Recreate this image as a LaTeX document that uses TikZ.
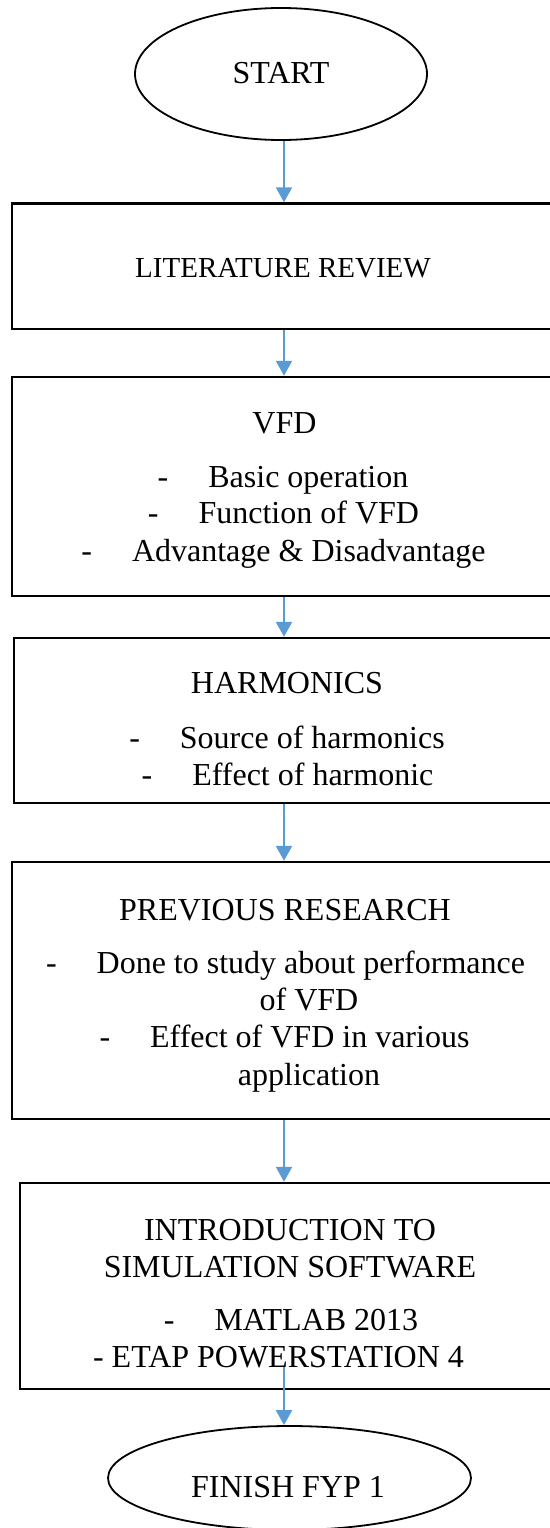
\documentclass[tikz,border=0pt]{standalone}
\usepackage{fontspec}
\setmainfont{Liberation Serif}
\usetikzlibrary{shapes.geometric,arrows.meta}

\definecolor{flowblue}{RGB}{91,155,213}

\tikzset{
  stepbox/.style={draw, line width=2.4pt, inner sep=0pt},
  terminal/.style={draw, ellipse, line width=1.8pt, inner sep=0pt},
  flow/.style={draw=flowblue, line width=2.2pt, -{Triangle[width=16pt,length=15pt]}},
  txt/.style={anchor=base, inner sep=0pt, font=\fontsize{32}{38}\selectfont}
}
\newcommand{\bullline}[1]{-\hspace{40pt}#1}

\begin{document}
\begin{tikzpicture}[x=1pt,y=-1pt]
  \useasboundingbox (0,0) rectangle (549,1528);

  % shapes
  \node[terminal, minimum width=292pt, minimum height=132pt] (start) at (281,74) {};
  \node[stepbox, minimum width=544pt, minimum height=125.5pt] (litrev) at (284,266.25) {};
  \node[stepbox, minimum width=544pt, minimum height=219pt] (vfd) at (284,486.5) {};
  \node[stepbox, minimum width=540pt, minimum height=165pt] (harm) at (284,720.5) {};
  \node[stepbox, minimum width=544pt, minimum height=257pt] (prev) at (284,990.5) {};
  \node[stepbox, minimum width=540pt, minimum height=206pt] (sim) at (290,1286) {};
  \node[terminal, minimum width=363pt, minimum height=104pt] (finish) at (289.5,1478) {};

  % texts
  \node[txt] (tstart) at (281,83) {START};
  \node[txt, font=\fontsize{29}{35}\selectfont] (tlit) at (283,277) {LITERATURE REVIEW};
  \node[txt] (tvfd) at (284.5,433) {VFD};
  \node[txt] (tbasic) at (283,487) {\bullline{Basic operation}};
  \node[txt] (tfunc) at (283.5,523) {\bullline{Function of VFD}};
  \node[txt] (tadv) at (283.5,561) {\bullline{Advantage \& Disadvantage}};
  \node[txt] (tharm) at (287,693) {HARMONICS};
  \node[txt] (tsrc) at (287,748) {\bullline{Source of harmonics}};
  \node[txt] (teff) at (287.5,785) {\bullline{Effect of harmonic}};
  \node[txt] (tprev) at (285,920) {PREVIOUS RESEARCH};
  \node[txt] (tdone) at (285.5,973) {\bullline{Done to study about performance}};
  \node[txt] (tdone2) at (309,1010) {of VFD};
  \node[txt] (tvar) at (284.5,1047) {\bullline{Effect of VFD in various}};
  \node[txt] (tvar2) at (309,1085) {application};
  \node[txt] (tintro) at (290,1240) {INTRODUCTION TO};
  \node[txt] (tsim) at (290,1277) {SIMULATION SOFTWARE};
  \node[txt] (tmat) at (291,1330) {\bullline{MATLAB 2013}};
  \node[txt] (tetap) at (278.5,1367) {- ETAP POWERSTATION 4};
  \node[txt] (tfin) at (288,1497) {FINISH FYP 1};

  % arrows
  \coordinate (etapend) at (284,1367);
  \draw[flow] (litrev.north |- start.south) -- (litrev.north);
  \draw[flow] (litrev.south) -- (vfd.north);
  \draw[flow] (vfd.south) -- (harm.north);
  \draw[flow] (harm.south) -- (prev.north);
  \draw[flow] (prev.south) -- (prev.south |- sim.north);
  \draw[flow] (etapend) -- (etapend |- finish.north);
\end{tikzpicture}
\end{document}
